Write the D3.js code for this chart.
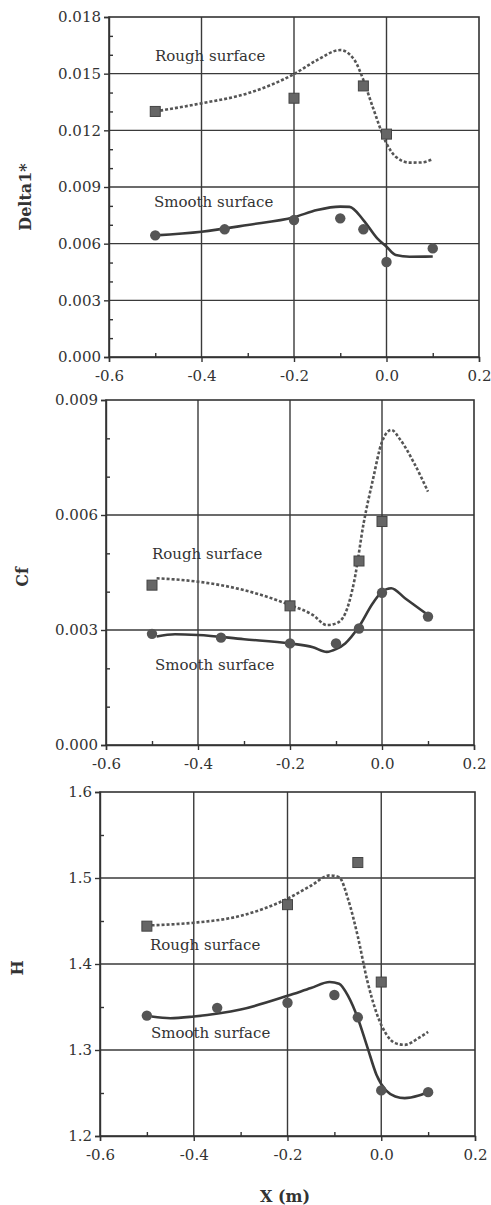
<!DOCTYPE html>
<html>
<head>
<meta charset="utf-8">
<script src="https://cdn.jsdelivr.net/npm/d3@7"></script>
<style>
  body { margin: 0; background: #fff; }
  text { font-family: "DejaVu Serif", serif; fill: #333; }
  .axis path, .axis line { stroke: #333; stroke-width: 1.4; }
</style>
</head>
<body>
<div id="chart"></div>
<script>
// x positions (m)
var xMarks = [-0.5, -0.35, -0.2, -0.1, -0.05, 0.0, 0.1];
var xRough = [-0.5, -0.2, -0.05, 0.0];
var xTicks = [-0.6, -0.4, -0.2, 0.0, 0.2];

// Delta1* panel
var d1Smooth = [0.00644, 0.00676, 0.00725, 0.00734, 0.00676, 0.00503, 0.00575];
var d1Rough = [0.0130, 0.0137, 0.01435, 0.0118];
var d1SmoothFitX = [-0.5, -0.4, -0.3, -0.2, -0.15, -0.1, -0.08, -0.05, -0.02, 0.0, 0.02, 0.05, 0.1];
var d1SmoothFit = [0.00644, 0.00663, 0.00699, 0.0074, 0.00778, 0.00796, 0.00795, 0.00725, 0.00628, 0.00584, 0.0054, 0.00531, 0.00532];
var d1RoughFitX = [-0.5, -0.4, -0.3, -0.2, -0.15, -0.1, -0.07, -0.05, -0.03, 0.0, 0.02, 0.05, 0.075, 0.1];
var d1RoughFit = [0.0130, 0.01343, 0.01396, 0.01498, 0.01572, 0.01625, 0.01575, 0.01467, 0.01325, 0.01131, 0.0106, 0.01029, 0.0103, 0.01047];
var d1Ticks = [0, 0.003, 0.006, 0.009, 0.012, 0.015, 0.018];

// Cf panel
var cfSmooth = [0.0029, 0.0028, 0.00265, 0.00265, 0.00304, 0.00397, 0.00335];
var cfRough = [0.00417, 0.00363, 0.0048, 0.00583];
var cfSmoothFitX = [-0.49, -0.45, -0.4, -0.3, -0.2, -0.15, -0.12, -0.1, -0.08, -0.05, -0.02, 0.0, 0.02, 0.05, 0.1];
var cfSmoothFit = [0.00283, 0.00289, 0.00287, 0.00276, 0.00265, 0.00255, 0.00243, 0.0025, 0.00265, 0.00309, 0.0037, 0.004, 0.00409, 0.00383, 0.00339];
var cfRoughFitX = [-0.49, -0.4, -0.3, -0.2, -0.15, -0.12, -0.1, -0.08, -0.06, -0.04, -0.02, 0.0, 0.02, 0.04, 0.07, 0.1];
var cfRoughFit = [0.00435, 0.00426, 0.00404, 0.00365, 0.00339, 0.00313, 0.00317, 0.00343, 0.0043, 0.00578, 0.00691, 0.00791, 0.00822, 0.00796, 0.00735, 0.00661];
var cfTicks = [0, 0.003, 0.006, 0.009];

// H panel
var hSmooth = [1.340, 1.349, 1.355, 1.364, 1.338, 1.253, 1.251];
var hRough = [1.444, 1.469, 1.518, 1.379];
var hFitX = [-0.49, -0.45, -0.4, -0.3, -0.2, -0.15, -0.11, -0.09, -0.07, -0.05, -0.03, -0.01, 0.01, 0.03, 0.05, 0.08, 0.1];
var hSmoothFit = [1.339, 1.337, 1.339, 1.347, 1.363, 1.372, 1.379, 1.377, 1.362, 1.337, 1.304, 1.271, 1.253, 1.246, 1.244, 1.247, 1.251];
var hRoughFit = [1.445, 1.446, 1.448, 1.456, 1.476, 1.491, 1.503, 1.501, 1.474, 1.432, 1.381, 1.343, 1.319, 1.308, 1.306, 1.314, 1.321];
var hTicks = [1.2, 1.3, 1.4, 1.5, 1.6];

var svg = d3.select("#chart").append("svg")
    .attr("width", 491)
    .attr("height", 1205);

// plain hyphen minus like the original print
function fmt(spec) {
    var f = d3.format(spec);
    return function(d) { return f(d).replace("\u2212", "-"); };
}

var panels = [
  {left: 109, right: 479, top: 17, bottom: 357, dom: [0, 0.018], ticks: d1Ticks, minorStep: 0.001, fmt: fmt(".3f"),
   label: "Delta1*", labelX: 25, labelY: 197,
   smooth: d1Smooth, rough: d1Rough, smoothFitX: d1SmoothFitX, smoothFit: d1SmoothFit, roughFitX: d1RoughFitX, roughFit: d1RoughFit,
   roughText: [155, 61], smoothText: [154, 207]},
  {left: 106, right: 474, top: 400, bottom: 745, dom: [0, 0.009], ticks: cfTicks, minorStep: 0.001, fmt: fmt(".3f"),
   label: "Cf", labelX: 22, labelY: 577,
   smooth: cfSmooth, rough: cfRough, smoothFitX: cfSmoothFitX, smoothFit: cfSmoothFit, roughFitX: cfRoughFitX, roughFit: cfRoughFit,
   roughText: [152, 559], smoothText: [155, 670]},
  {left: 100, right: 475, top: 792, bottom: 1136, dom: [1.2, 1.6], ticks: hTicks, minorStep: 0.05, fmt: fmt(".1f"),
   label: "H", labelX: 17, labelY: 968,
   smooth: hSmooth, rough: hRough, smoothFitX: hFitX, smoothFit: hSmoothFit, roughFitX: hFitX, roughFit: hRoughFit,
   roughText: [150, 950], smoothText: [151, 1038]}
];

panels.forEach(drawPanel);

// shared x axis title
svg.append("text")
    .attr("x", 285)
    .attr("y", 1202)
    .attr("text-anchor", "middle")
    .style("font-size", "16px")
    .style("font-weight", "bold")
    .text("X (m)");

function drawPanel(p) {
    var x = d3.scaleLinear().domain([-0.6, 0.2]).range([p.left, p.right]);
    var y = d3.scaleLinear().domain(p.dom).range([p.bottom, p.top]);
    var g = svg.append("g");

    // minor tick values
    var minor = d3.range(p.dom[0], p.dom[1] + 1e-9, p.minorStep)
        .filter(function(v) { return !p.ticks.some(function(t) { return Math.abs(t - v) < 1e-9; }); });
    var xMinor = [-0.5, -0.3, -0.1, 0.1];

    // grid lines
    g.selectAll(".hgrid")
        .data(p.ticks.slice(1, -1))
        .enter().append("line")
        .attr("x1", p.left).attr("x2", p.right)
        .attr("y1", function(d) { return y(d); })
        .attr("y2", function(d) { return y(d); })
        .attr("stroke", "#3a3a3a").attr("stroke-width", 1.4);
    g.selectAll(".vgrid")
        .data(xTicks.slice(1, -1))
        .enter().append("line")
        .attr("y1", p.top).attr("y2", p.bottom)
        .attr("x1", function(d) { return x(d); })
        .attr("x2", function(d) { return x(d); })
        .attr("stroke", "#3a3a3a").attr("stroke-width", 1.4);

    // frame
    g.append("rect")
        .attr("x", p.left).attr("y", p.top)
        .attr("width", p.right - p.left).attr("height", p.bottom - p.top)
        .attr("fill", "none").attr("stroke", "#333").attr("stroke-width", 1.6);

    // y axis: major outward, minor inward
    g.append("g")
        .attr("class", "axis")
        .attr("transform", "translate(" + p.left + ",0)")
        .call(d3.axisLeft(y).tickValues(p.ticks).tickSize(5).tickPadding(3).tickFormat(p.fmt));
    g.append("g")
        .attr("class", "axis")
        .attr("transform", "translate(" + p.left + ",0)")
        .call(d3.axisRight(y).tickValues(minor).tickSize(4).tickFormat(""))
        .select(".domain").remove();

    // x axis
    g.append("g")
        .attr("class", "axis")
        .attr("transform", "translate(0," + p.bottom + ")")
        .call(d3.axisBottom(x).tickValues(xTicks).tickSize(5).tickPadding(8).tickFormat(fmt(".1f")));
    g.append("g")
        .attr("class", "axis")
        .attr("transform", "translate(0," + p.bottom + ")")
        .call(d3.axisTop(x).tickValues(xMinor).tickSize(4).tickFormat(""))
        .select(".domain").remove();

    g.selectAll(".tick text")
        .style("font-size", "15px")
        .style("font-family", "\"DejaVu Serif\", serif")
        .attr("fill", "#333");

    // fitted curves
    var line = d3.line()
        .x(function(d) { return x(d[0]); })
        .y(function(d) { return y(d[1]); })
        .curve(d3.curveMonotoneX);

    g.append("path")
        .datum(d3.zip(p.roughFitX, p.roughFit))
        .attr("d", line)
        .attr("fill", "none")
        .attr("stroke", "#555")
        .attr("stroke-width", 2.6)
        .attr("stroke-dasharray", "3,2");

    g.append("path")
        .datum(d3.zip(p.smoothFitX, p.smoothFit))
        .attr("d", line)
        .attr("fill", "none")
        .attr("stroke", "#3a3a3a")
        .attr("stroke-width", 2.6);

    // measured points
    g.selectAll(".sq")
        .data(d3.zip(xRough, p.rough))
        .enter().append("rect")
        .attr("x", function(d) { return x(d[0]) - 5; })
        .attr("y", function(d) { return y(d[1]) - 5; })
        .attr("width", 10).attr("height", 10)
        .attr("fill", "#666").attr("stroke", "#444").attr("stroke-width", 1);

    g.selectAll(".dot")
        .data(d3.zip(xMarks, p.smooth))
        .enter().append("circle")
        .attr("cx", function(d) { return x(d[0]); })
        .attr("cy", function(d) { return y(d[1]); })
        .attr("r", 5.2)
        .attr("fill", "#555");

    // curve labels
    g.append("text")
        .attr("x", p.roughText[0]).attr("y", p.roughText[1])
        .style("font-size", "15px")
        .text("Rough surface");
    g.append("text")
        .attr("x", p.smoothText[0]).attr("y", p.smoothText[1])
        .style("font-size", "15px")
        .text("Smooth surface");

    // y axis title
    g.append("text")
        .attr("transform", "translate(" + p.labelX + "," + p.labelY + ") rotate(-90)")
        .attr("text-anchor", "middle")
        .attr("dy", "0.35em")
        .style("font-size", "16px")
        .style("font-weight", "bold")
        .text(p.label);
}
</script>
</body>
</html>
